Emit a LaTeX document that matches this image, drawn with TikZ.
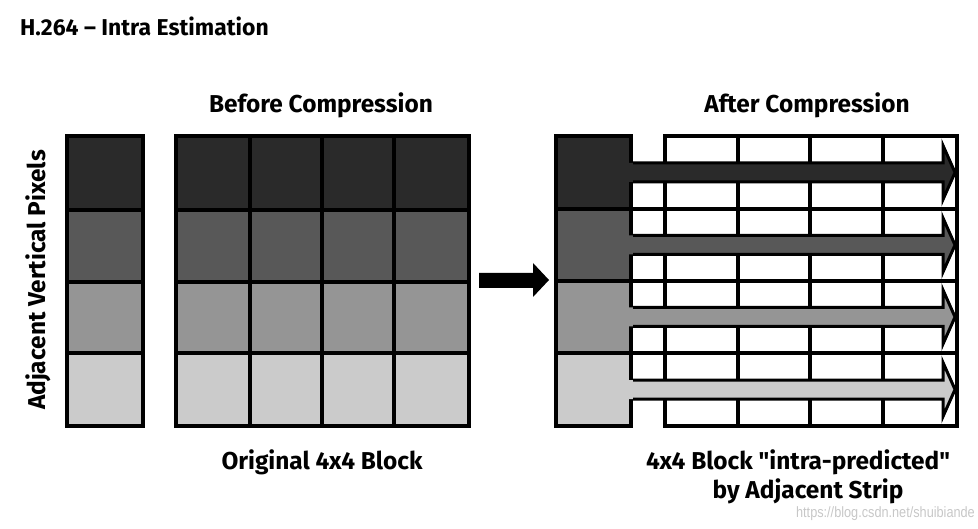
\documentclass[tikz,border=0pt]{standalone}
\usepackage{fontspec}
\setmainfont{Fira Sans}[Ligatures=TeXOff]
\newfontfamily\wmfont{Liberation Sans}[FakeStretch=0.85]
\definecolor{rowA}{HTML}{2A2A2A}
\definecolor{rowB}{HTML}{585858}
\definecolor{rowC}{HTML}{959595}
\definecolor{rowD}{HTML}{CBCBCB}
\tikzset{
  gridline/.style={line width=4.5bp, black},
  arrowline/.style={line width=3bp, black, line join=miter},
  lbl/.style={font=\bfseries\fontsize{24.5}{28}\selectfont, anchor=base, inner sep=0pt},
}
\begin{document}
\begin{tikzpicture}[x=1bp,y=-1bp]
\useasboundingbox (0,0) rectangle (978,529);
% fills
\foreach \c/\ya/\yb in {rowA/136/210, rowB/210/282, rowC/282/353, rowD/353/426}{
  \fill[\c] (67,\ya) rectangle (143,\yb);
  \fill[\c] (176,\ya) rectangle (469,\yb);
  \fill[\c] (556,\ya) rectangle (631,\yb);
}
% left strip
\draw[gridline] (67,136) rectangle (143,426);
\foreach \y in {210,282,353} \draw[gridline] (67,\y) -- (143,\y);
% original block
\draw[gridline] (176,136) rectangle (469,426);
\foreach \y in {210,282,353} \draw[gridline] (176,\y) -- (469,\y);
\foreach \x in {250,322,394} \draw[gridline] (\x,136) -- (\x,426);
% right strip and predicted block
\draw[gridline] (556,136) rectangle (631,426);
\draw[gridline] (665,136) rectangle (957,426);
\foreach \y in {209,281,353} \draw[gridline] (556,\y) -- (957,\y);
\foreach \x in {738,810,883} \draw[gridline] (\x,136) -- (\x,426);
% prediction arrows
\foreach \c/\yc in {rowA/172.5, rowB/245, rowC/317, rowD/389.5}{
  \fill[\c] (626,\yc-9.5) -- (943,\yc-9.5) -- (943,\yc-27) -- (955,\yc) -- (943,\yc+27) -- (943,\yc+9.5) -- (626,\yc+9.5) -- cycle;
  \draw[arrowline] (633,\yc-9.5) -- (943,\yc-9.5) -- (943,\yc-27) -- (955,\yc) -- (943,\yc+27) -- (943,\yc+9.5) -- (633,\yc+9.5);
}
% middle arrow
\fill[black] (479,273) -- (533,273) -- (533,263) -- (549,280) -- (533,297) -- (533,288) -- (479,288) -- cycle;
% texts
\node[font=\bfseries\fontsize{23}{26}\selectfont, anchor=base west, inner sep=0pt] (title) at (20,36) {H.264 – Intra Estimation};
\node[lbl] (before) at (321,113) {Before Compression};
\node[lbl] (after) at (807,113) {After Compression};
\node[lbl] (orig) at (322,469) {Original 4x4 Block};
\node[lbl] (pred) at (798,469) {4x4 Block "intra-predicted"};
\node[lbl] (pred2) at (808,498) {by Adjacent Strip};
\node[lbl, rotate=90] (adj) at (45,280) {Adjacent Vertical Pixels};
\node[font=\wmfont\fontsize{15}{18}\selectfont, text=black!22, anchor=base east, inner sep=0pt] (wm) at (975,517) {https://blog.csdn.net/shuibiande};
\end{tikzpicture}
\end{document}
